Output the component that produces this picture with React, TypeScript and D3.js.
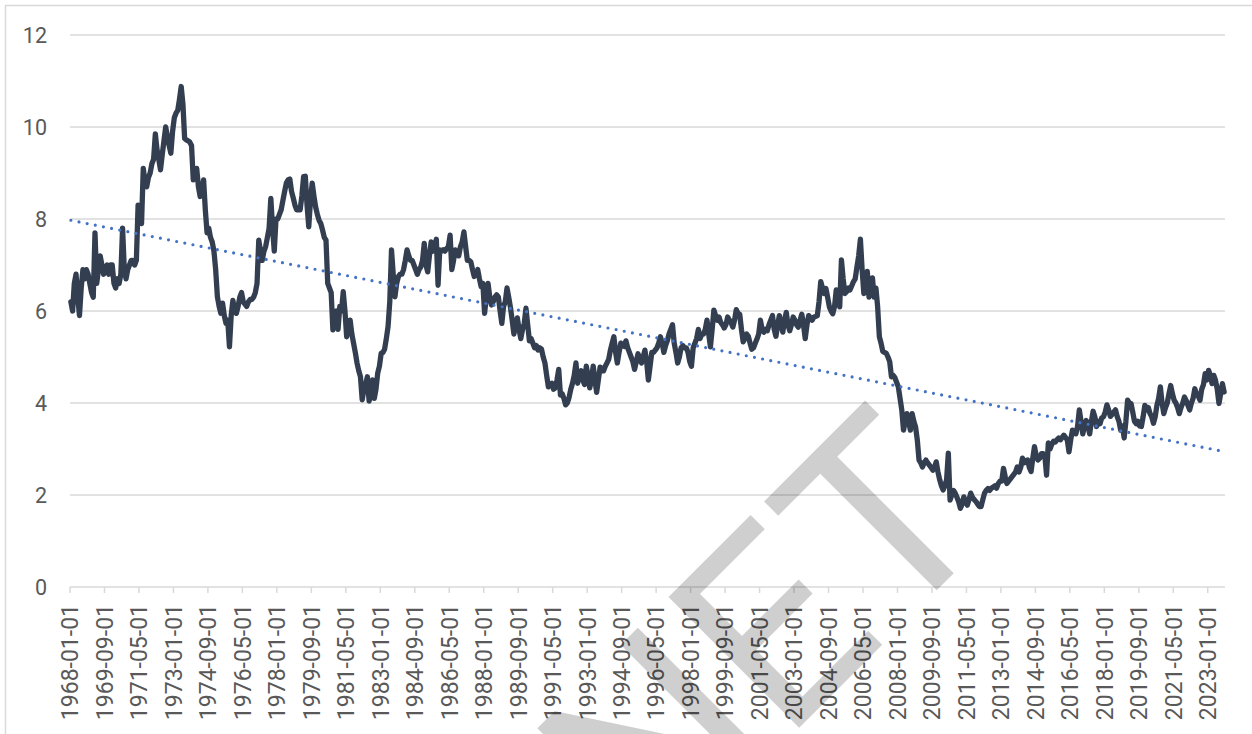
import React from "react";
import * as d3 from "d3";

const rates1968to1977 = [
  6.2, 6.0, 6.6, 6.8, 6.3, 5.9, 6.5, 6.9, 6.7, 6.9, 6.8, 6.6,
  6.4, 6.3, 7.7, 6.6, 6.9, 7.2, 7.0, 6.8, 6.9, 7.0, 6.8, 7.0,
  7.0, 6.6, 6.5, 6.7, 6.6, 6.8, 7.8, 6.9, 6.7, 6.9, 7.0, 7.1,
  7.1, 7.0, 7.1, 8.3, 8.0, 7.9, 9.1, 8.8, 8.7, 8.9, 9.0, 9.2,
  9.3, 9.85, 9.5, 9.3, 9.07, 9.4, 9.7, 10.0, 9.8, 9.6, 9.43, 9.9,
  10.2, 10.3, 10.36, 10.6, 10.88, 10.5, 9.75, 9.72, 9.7, 9.67, 9.6, 8.85,
  8.9, 9.1, 8.7, 8.49, 8.6, 8.85, 8.2, 7.7, 7.8, 7.6, 7.5, 7.3,
  6.9, 6.31, 6.1, 5.95, 6.17, 5.9, 5.73, 5.8, 5.22, 5.9, 6.23, 6.0,
  5.95, 6.1, 6.3, 6.4, 6.2, 6.15, 6.1, 6.2, 6.25, 6.25, 6.3, 6.4,
  6.6, 7.54, 7.3, 7.1, 7.3, 7.4, 7.6, 7.8, 8.45, 7.8, 7.3, 8.0,
];
const rates1978to1987 = [
  8.0, 8.1, 8.2, 8.4, 8.6, 8.78, 8.85, 8.87, 8.6, 8.46, 8.3, 8.2,
  8.2, 8.2, 8.5, 8.92, 8.93, 8.3, 7.83, 8.4, 8.78, 8.5, 8.26, 8.1,
  7.97, 7.9, 7.76, 7.6, 7.54, 6.6, 6.5, 6.4, 5.59, 5.9, 6.0, 5.6,
  6.1, 6.0, 6.42, 6.0, 5.44, 5.6, 5.8, 5.5, 5.3, 5.1, 4.87, 4.7,
  4.57, 4.07, 4.3, 4.4, 4.57, 4.04, 4.2, 4.5, 4.1, 4.3, 4.65, 4.8,
  5.08, 5.1, 5.17, 5.4, 5.66, 6.2, 7.33, 6.8, 6.31, 6.6, 6.75, 6.8,
  6.8, 6.9, 7.1, 7.33, 7.2, 7.1, 7.1, 7.0, 6.9, 6.8, 6.9, 6.96,
  7.1, 7.47, 7.0, 6.85, 7.2, 7.5, 7.3, 7.4, 7.56, 6.56, 7.33, 7.3,
  7.33, 7.3, 7.36, 7.4, 7.65, 6.9, 7.1, 7.33, 7.25, 7.2, 7.4, 7.5,
  7.72, 7.4, 7.1, 7.1, 7.07, 6.9, 6.75, 6.8, 6.9, 6.7, 6.53, 6.6,
];
const rates1988to1997 = [
  5.95, 6.3, 6.6, 6.3, 6.13, 6.2, 6.3, 6.35, 6.3, 6.0, 5.73, 6.1,
  6.2, 6.5, 6.3, 6.08, 5.8, 5.5, 5.7, 5.85, 5.6, 5.4, 5.6, 5.73,
  6.06, 5.7, 5.35, 5.4, 5.3, 5.2, 5.25, 5.15, 5.2, 5.17, 5.0, 4.87,
  4.6, 4.35, 4.4, 4.43, 4.3, 4.33, 4.5, 4.73, 4.17, 4.2, 4.1, 3.96,
  4.0, 4.12, 4.3, 4.43, 4.6, 4.87, 4.43, 4.6, 4.7, 4.5, 4.4, 4.8,
  4.6, 4.33, 4.5, 4.8, 4.5, 4.23, 4.5, 4.78, 4.75, 4.7, 4.8, 4.87,
  4.95, 5.15, 5.3, 5.44, 5.1, 4.87, 5.1, 5.3, 5.25, 5.23, 5.35, 5.2,
  5.1, 5.0, 4.9, 4.73, 4.9, 5.07, 4.95, 4.87, 5.0, 5.15, 4.9, 4.5,
  4.8, 5.1, 5.1, 5.15, 5.2, 5.3, 5.44, 5.3, 5.1, 5.25, 5.35, 5.5,
  5.6, 5.7, 5.3, 5.1, 4.87, 5.0, 5.2, 5.25, 5.2, 5.2, 5.1, 4.9,
];
const rates1998to2007 = [
  4.8, 5.2, 5.3, 5.4, 5.6, 5.4, 5.5, 5.5, 5.6, 5.8, 5.5, 5.22,
  5.6, 6.02, 5.9, 5.8, 5.87, 5.75, 5.7, 5.63, 5.7, 5.87, 5.8, 5.75,
  5.65, 5.8, 6.03, 5.95, 5.93, 5.6, 5.33, 5.4, 5.5, 5.45, 5.3, 5.17,
  5.2, 5.3, 5.39, 5.5, 5.8, 5.6, 5.54, 5.6, 5.57, 5.7, 5.8, 5.9,
  5.6, 5.45, 5.7, 5.9, 5.7, 5.54, 5.8, 5.97, 5.7, 5.57, 5.7, 5.87,
  5.8, 5.7, 5.65, 5.8, 5.93, 5.7, 5.4, 5.7, 5.9, 5.85, 5.8, 5.87,
  5.88, 5.9, 6.2, 6.64, 6.5, 6.38, 6.49, 6.3, 6.09, 6.0, 5.94, 6.1,
  6.46, 6.3, 6.09, 7.11, 6.7, 6.38, 6.42, 6.5, 6.46, 6.55, 6.64, 6.7,
  6.96, 7.2, 7.56, 6.9, 6.38, 6.6, 6.86, 6.3, 6.5, 6.72, 6.3, 6.5,
  6.09, 5.44, 5.3, 5.12, 5.1, 5.08, 5.0, 4.9, 4.57, 4.6, 4.55, 4.45,
];
const rates2008to2017 = [
  4.35, 4.1, 3.85, 3.41, 3.6, 3.77, 3.6, 3.41, 3.77, 3.6, 3.48, 3.2,
  2.76, 2.7, 2.61, 2.7, 2.76, 2.7, 2.65, 2.6, 2.54, 2.6, 2.72, 2.5,
  2.33, 2.2, 2.11, 2.2, 2.33, 2.91, 1.89, 2.0, 2.1, 2.04, 1.95, 1.85,
  1.71, 1.8, 1.96, 1.85, 1.78, 1.9, 2.04, 1.95, 1.9, 1.86, 1.8, 1.75,
  1.75, 1.9, 2.04, 2.1, 2.14, 2.1, 2.15, 2.17, 2.2, 2.15, 2.25, 2.3,
  2.3, 2.58, 2.4, 2.25, 2.3, 2.35, 2.4, 2.45, 2.5, 2.61, 2.5, 2.6,
  2.8, 2.7, 2.75, 2.76, 2.6, 2.51, 2.8, 3.05, 2.85, 2.76, 2.8, 2.9,
  2.9, 2.85, 2.43, 3.13, 3.0, 3.1, 3.17, 3.15, 3.2, 3.24, 3.2, 3.25,
  3.3, 3.25, 3.2, 2.94, 3.2, 3.41, 3.35, 3.33, 3.5, 3.85, 3.6, 3.33,
  3.5, 3.62, 3.5, 3.33, 3.6, 3.82, 3.7, 3.49, 3.6, 3.55, 3.68, 3.7,
];
const rates2018to2023 = [
  3.8, 3.96, 3.85, 3.71, 3.75, 3.8, 3.85, 3.7, 3.6, 3.41, 3.5, 3.24,
  3.6, 4.06, 4.0, 3.99, 3.8, 3.6, 3.55, 3.6, 3.5, 3.49, 3.7, 3.95,
  3.85, 3.9, 3.77, 3.7, 3.56, 3.7, 3.95, 4.1, 4.35, 4.0, 3.77, 3.9,
  4.0, 4.2, 4.38, 4.2, 4.06, 4.0, 3.9, 3.77, 3.9, 4.0, 4.13, 4.05,
  3.95, 3.85, 4.0, 4.1, 4.31, 4.2, 4.15, 4.06, 4.3, 4.4, 4.64, 4.5,
  4.71, 4.6, 4.42, 4.6, 4.49, 4.3, 3.99, 4.2, 4.42, 4.24,
];

const tickLabels = [
  "1968-01-01", "1969-09-01", "1971-05-01", "1973-01-01", "1974-09-01",
  "1976-05-01", "1978-01-01", "1979-09-01", "1981-05-01", "1983-01-01",
  "1984-09-01", "1986-05-01", "1988-01-01", "1989-09-01", "1991-05-01",
  "1993-01-01", "1994-09-01", "1996-05-01", "1998-01-01", "1999-09-01",
  "2001-05-01", "2003-01-01", "2004-09-01", "2006-05-01", "2008-01-01",
  "2009-09-01", "2011-05-01", "2013-01-01", "2014-09-01", "2016-05-01",
  "2018-01-01", "2019-09-01", "2021-05-01", "2023-01-01",
];
const yTicks = [0, 2, 4, 6, 8, 10, 12];
const watermarkText = "NET";

const values = [
  ...rates1968to1977,
  ...rates1978to1987,
  ...rates1988to1997,
  ...rates1998to2007,
  ...rates2008to2017,
  ...rates2018to2023,
];
const startYear = 1968;
const categories = values.map((_, i) => {
  const y = startYear + Math.floor(i / 12);
  const m = (i % 12) + 1;
  return `${y}-${String(m).padStart(2, "0")}-01`;
});

export default function App() {
  const W = 1252;
  const H = 734;
  const left = 70;
  const right = 1225;
  const top = 35;
  const bottom = 587;

  const x = d3.scaleBand<string>().domain(categories).range([left, right]);
  const y = d3.scaleLinear().domain([0, 12]).range([bottom, top]);
  const cx = (i: number) => (x(categories[i]) as number) + x.bandwidth() / 2;

  const line = d3
    .line<number>()
    .x((_, i) => cx(i))
    .y((d) => y(d))
    .curve(d3.curveLinear);

  // Excel-style linear trend (least squares over category index)
  const n = values.length;
  const idx = values.map((_, i) => i + 1);
  const mx = d3.mean(idx) as number;
  const my = d3.mean(values) as number;
  let sxy = 0;
  let sxx = 0;
  for (let i = 0; i < n; i++) {
    sxy += (idx[i] - mx) * (values[i] - my);
    sxx += (idx[i] - mx) * (idx[i] - mx);
  }
  const slope = sxy / sxx;
  const intercept = my - slope * mx;
  const trendStart = intercept + slope * 1;
  const trendEnd = intercept + slope * n;

  const textColor = "#595959";
  const gridColor = "#d9d9d9";
  const font = "Roboto, 'Noto Sans', sans-serif";

  return (
    <svg
      width={W}
      height={H}
      style={{ position: "absolute", left: 0, top: 0, background: "#fff" }}
    >
      <rect x={5.5} y={5.5} width={1262} height={742} fill="#fff" stroke={gridColor} strokeWidth={1.5} />
      {yTicks.map((t) => (
        <g key={t}>
          {t !== 0 && (
            <line x1={left} x2={right} y1={y(t)} y2={y(t)} stroke={gridColor} strokeWidth={1.5} />
          )}
          <text
            x={47}
            y={y(t)}
            textAnchor="end"
            dominantBaseline="central"
            fontFamily={font}
            fontSize={21.5}
            fill={textColor}
          >
            {t}
          </text>
        </g>
      ))}
      <line x1={left} x2={right} y1={bottom} y2={bottom} stroke={gridColor} strokeWidth={1.5} />
      {tickLabels.map((lab) => {
        const tx = x(lab) as number;
        return (
          <g key={lab}>
            <line x1={tx} x2={tx} y1={bottom} y2={bottom + 6} stroke={gridColor} strokeWidth={1.5} />
            <text
              transform={`translate(${tx + x.bandwidth() / 2},${bottom + 17}) rotate(-90)`}
              textAnchor="end"
              dominantBaseline="central"
              fontFamily={font}
              fontSize={23}
              fill={textColor}
            >
              {lab}
            </text>
          </g>
        );
      })}
      <path
        d={line(values) as string}
        fill="none"
        stroke="#333f50"
        strokeWidth={5.3}
        strokeLinejoin="round"
        strokeLinecap="round"
      />
      <line
        x1={cx(0)}
        x2={cx(n - 1)}
        y1={y(trendStart)}
        y2={y(trendEnd)}
        stroke="#4472c4"
        strokeWidth={3.2}
        strokeDasharray="0 8.3"
        strokeLinecap="round"
      />
      <text
        transform="translate(1000,527) rotate(-45)"
        textAnchor="end"
        fontFamily={font}
        fontSize={260}
        fill="#000"
        fillOpacity={0.19}
      >
        {watermarkText}
      </text>
    </svg>
  );
}
